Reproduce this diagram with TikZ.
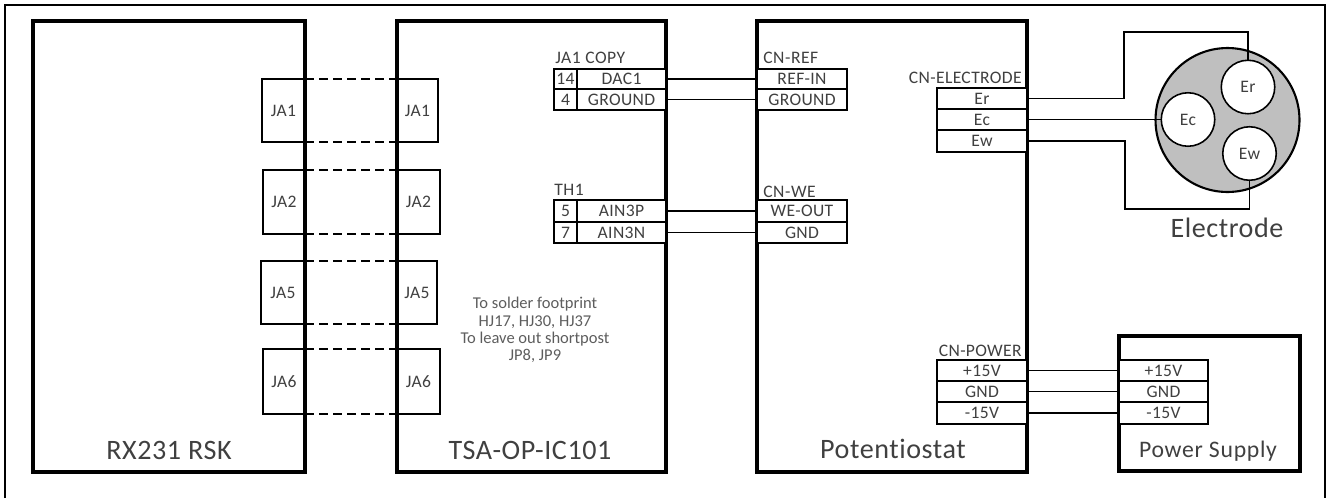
\documentclass[tikz,border=0pt]{standalone}
\usepackage{fontspec}
\setmainfont[Ligatures=NoCommon]{Carlito}
\newfontfamily\widefont[LetterSpace=2,Ligatures=NoCommon]{Carlito}
\newfontfamily\cellfont[LetterSpace=2]{Carlito}
\newfontfamily\tagfont[LetterSpace=3]{Carlito}
\usepackage{xcolor}
\usetikzlibrary{arrows.meta,positioning,calc}
\definecolor{ink}{HTML}{404040}
\definecolor{shell}{HTML}{BFBFBF}
\tikzset{board/.style={draw=black,line width=1.9pt,inner sep=0pt,outer sep=0pt},
  cellbox/.style={draw=black,line width=0.7pt,fill=white,inner sep=0pt,outer sep=0pt,text=ink,font=\cellfont\fontsize{10}{11}\selectfont},
  wire/.style={line width=0.8pt,line join=miter},
  dashwire/.style={line width=0.8pt,dash pattern=on 5pt off 3pt},
  pad/.style={circle,draw=black,line width=0.9pt,fill=white,minimum size=1.07cm,inner sep=0pt,outer sep=0pt,text=ink,font=\cellfont\fontsize{10}{11}\selectfont},
  caption/.style={text=ink,font=\widefont\fontsize{16}{18}\selectfont,inner sep=0pt},
  tag/.style={text=ink,font=\tagfont\fontsize{10}{11}\selectfont,inner sep=0pt}}
% board given by its corners: x1, y1, x2, y2, name
\newcommand{\boardbox}[5]{\node[board,minimum width={(#3-#1)*0.02cm},minimum height={(#4-#2)*0.02cm}] (#5) at ({(#1+#3)/2},{(#2+#4)/2}) {};}
\begin{document}
\begin{tikzpicture}[x=0.02cm,y=-0.02cm]
  \useasboundingbox (0,0) rectangle (1328,498);
  \draw[line width=1.3pt] (5,498) -- (5,5) -- (1325,5) -- (1325,498);
  % boards
  \boardbox{33}{21}{305}{472}{rsk}
  \boardbox{397}{21}{666}{472}{tsa}
  \boardbox{757}{21}{1027}{472}{pot}
  \boardbox{1119}{336}{1300}{471}{psu}
  \node[caption] (rsklabel) at (169,450) {RX231 RSK};
  \node[caption] (tsalabel) at (530,450) {TSA-OP-IC101};
  \node[caption] (potlabel) at (893,449) {Potentiostat};
  \node[caption,font=\tagfont\fontsize{13.5}{15}\selectfont] (psulabel) at (1208,451) {Power Supply};
  % headers between the two boards
  \foreach \n/\a/\b/\c/\d in {JA1/262/79/438/142, JA2/263/170/440/234, JA5/261/261/437/324, JA6/263/349/440/414}
    { \node[cellbox,minimum width={(305-\a)*0.02cm},minimum height={(\d-\b)*0.02cm},fill=none] (l\n) at ({(\a+305)/2},{(\b+\d)/2}) {\n};
      \node[cellbox,minimum width={(\c-397)*0.02cm},minimum height={(\d-\b)*0.02cm},fill=none] (r\n) at ({(\c+397)/2},{(\b+\d)/2}) {\n};
      \draw[dashwire] (l\n.north east) -- (r\n.north west);
      \draw[dashwire] (l\n.south east) -- (r\n.south west); }
  % connector tables
  \node[tag,anchor=west] (copytag) at (555,58) {JA1 COPY};
  \node[tag,anchor=west] (thtag) at (554,190) {TH1};
  \node[tag,anchor=west] (reftag) at (763,58) {CN-REF};
  \node[tag,anchor=west] (wetag) at (763,192) {CN-WE};
  \node[tag,anchor=east,font=\cellfont\fontsize{10}{11}\selectfont] (eltag) at (1022,78) {CN-ELECTRODE};
  \node[tag,anchor=east,font=\cellfont\fontsize{10}{11}\selectfont] (pwrtag) at (1022,351) {CN-POWER};
  \foreach \s/\t/\nm/\a/\b/\p/\q in {dac/14/DAC1/69/89/refin/REF-IN, gnda/4/GROUND/89/110/gndb/GROUND, ainp/5/AIN3P/200/222/weout/WE-OUT, ainn/7/AIN3N/222/243/gndw/GND}
    { \node[cellbox,minimum width={23*0.02cm},minimum height={(\b-\a)*0.02cm}] (n\s) at (565.5,{(\a+\b)/2}) {\t};
      \node[cellbox,minimum width={89*0.02cm},minimum height={(\b-\a)*0.02cm}] (\s) at (621.5,{(\a+\b)/2}) {\nm};
      \node[cellbox,minimum width={90*0.02cm},minimum height={(\b-\a)*0.02cm}] (\p) at (802,{(\a+\b)/2}) {\q};
      \draw[wire] (\s.east) -- (\p.west); }
  \foreach \s/\t/\a/\b in {er/Er/88/109, ec/Ec/109/130, ew/Ew/130/152, pa/+15V/360/381, pb/GND/381/402, pc/-15V/402/424}
    \node[cellbox,minimum width={90*0.02cm},minimum height={(\b-\a)*0.02cm}] (\s) at (982,{(\a+\b)/2}) {\t};
  \foreach \s/\t/\a/\b in {qa/+15V/360/381, qb/GND/381/402, qc/-15V/402/424}
    \node[cellbox,minimum width={89*0.02cm},minimum height={(\b-\a)*0.02cm}] (\s) at (1163.5,{(\a+\b)/2}) {\t};
  \draw[wire] (pa.east) -- (qa.west) (pb.east) -- (qb.west) (pc.east) -- (qc.west);
  % electrode
  \node[circle,draw=black,line width=1.2pt,fill=shell,minimum size=2.88cm,inner sep=0pt,outer sep=0pt] (shellc) at (1227.5,120) {};
  \node[pad] (padr) at (1248,87) {Er};
  \node[pad] (padc) at (1188,119.5) {Ec};
  \node[pad] (padw) at (1249.5,153.5) {Ew};
  \node[caption] (ellabel) at (1227,228) {Electrode};
  \coordinate (rup) at (1124,32);
  \coordinate (wdn) at (1125,209);
  \draw[wire] (er.east) -| (rup) -| (padr.north);
  \draw[wire,line width=1.1pt] (ec.east) -- (padc.west);
  \draw[wire] (ew.east) -| (wdn) -| (padw.south);
  % note
  \node[tag,align=center,font=\fontsize{9.4}{9.8}\selectfont,text=ink!85] (note) at (535,330) {To solder footprint\\HJ17, HJ30, HJ37\\To leave out shortpost\\JP8, JP9};
\end{tikzpicture}
\end{document}
